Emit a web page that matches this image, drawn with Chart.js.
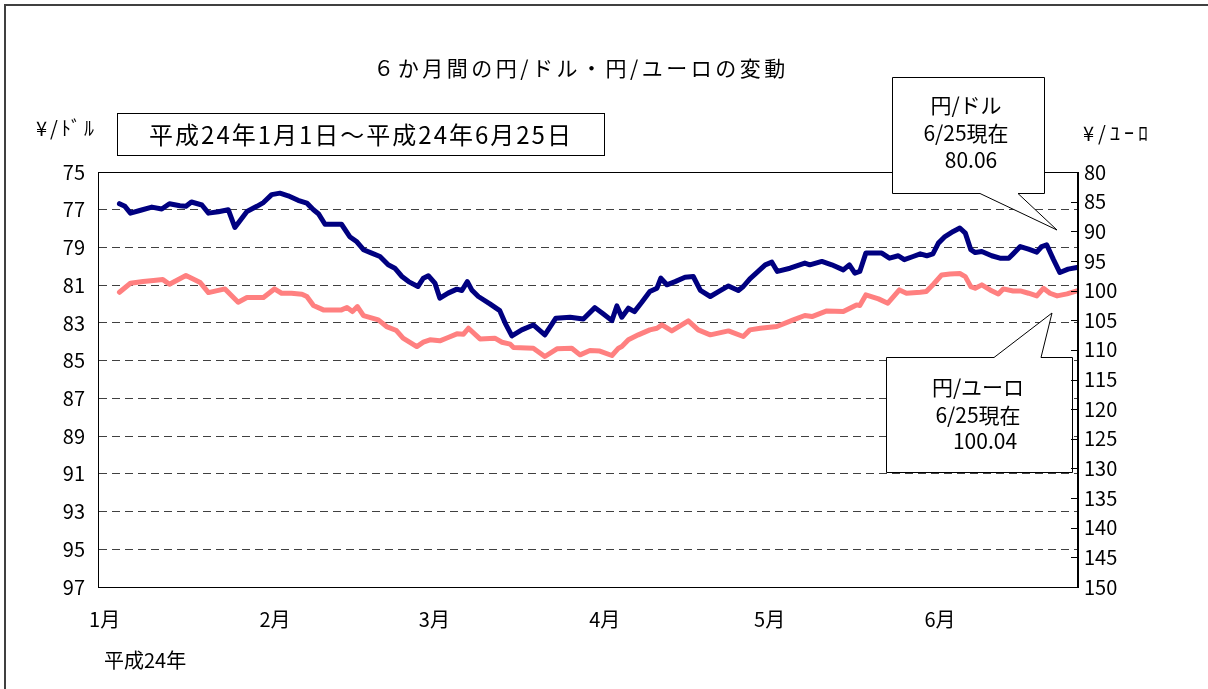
<!DOCTYPE html>
<html lang="ja">
<head>
<meta charset="utf-8">
<title>6か月間の円/ドル・円/ユーロの変動</title>
<script src="https://cdn.jsdelivr.net/npm/chart.js@4.4.1/dist/chart.umd.min.js"></script>
<style>
  html, body { margin: 0; padding: 0; background: #fff; }
  #wrap { width: 1208px; height: 689px; }
</style>
</head>
<body>
<div id="wrap"><canvas id="fxChart" width="1208" height="689"></canvas></div>
<script>
// ---------- Data (day index: 0 = 1月1日) ----------
const monthStarts = [0, 31, 60, 91, 121, 152];
const monthLabels = ["1月", "2月", "3月", "4月", "5月", "6月"];

// 円/ドル (left axis)
const usdDays = [
  2.7, 3.7, 4.7, 6.4, 8.6, 10.4, 11.8, 13.7, 14.8, 15.8, 17.7, 18.9, 20.7, 22.5, 23.7, 25.9, 27.7, 28.9,
  30.4, 31.9, 33.4, 35.2, 36.8, 38.0, 38.9, 40.1, 43.1, 44.6, 45.9, 47.1, 48.6, 50.1, 51.6, 52.8, 54.1,
  55.3, 57.0, 58.0, 58.9, 60.1, 61.0, 62.5, 64.1, 65.0, 66.0, 66.8, 68.0, 70.1, 71.9, 72.9, 74.1, 75.9,
  78.0, 80.1, 82.1, 84.7, 87.1, 89.2, 90.7, 92.3, 93.2, 94.1, 95.3, 96.4, 97.7, 99.2, 100.5, 101.2,
  102.3, 103.8, 105.6, 107.1, 108.4, 110.2, 111.7, 113.5, 115.3, 116.2, 117.4, 118.9, 120.2, 121.4,
  122.4, 124.7, 127.4, 128.3, 130.5, 132.3, 134.4, 135.5, 136.5, 137.4, 138.5, 141.4, 142.8, 144.4,
  145.5, 147.1, 148.4, 149.6, 150.7, 151.7, 152.9, 154.4, 155.6, 156.6, 157.6, 158.4, 159.6, 161.4,
  162.9, 164.5, 165.3, 166.6, 168.1, 169.6, 170.5, 171.4, 172.6, 173.8, 175.3, 176.9
];
const usdRates = [
  76.68, 76.82, 77.18, 77.04, 76.86, 76.96, 76.68, 76.79, 76.82, 76.59, 76.75, 77.18, 77.11, 77.00, 77.94, 77.09, 76.82, 76.62,
  76.20, 76.12, 76.26, 76.50, 76.65, 77.00, 77.21, 77.77, 77.77, 78.43, 78.70, 79.12, 79.30, 79.48, 79.92, 80.10, 80.54,
  80.81, 81.07, 80.63, 80.50, 80.89, 81.69, 81.42, 81.21, 81.28, 80.81, 81.25, 81.60, 81.99, 82.35, 83.02, 83.69, 83.37,
  83.11, 83.64, 82.75, 82.70, 82.79, 82.19, 82.52, 82.88, 82.10, 82.70, 82.22, 82.40, 81.92, 81.34, 81.16, 80.63,
  80.98, 80.81, 80.58, 80.54, 81.28, 81.60, 81.34, 81.04, 81.28, 81.07, 80.66, 80.27, 79.92, 79.78,
  80.27, 80.10, 79.83, 79.92, 79.74, 79.92, 80.19, 79.92, 80.36, 80.27, 79.30, 79.30, 79.57, 79.44,
  79.65, 79.48, 79.34, 79.44, 79.34, 78.77, 78.42, 78.15, 77.97, 78.24, 79.12, 79.27, 79.21, 79.44,
  79.57, 79.57, 79.34, 78.95, 79.09, 79.25, 78.95, 78.86, 79.62, 80.33, 80.15, 80.06
];

// 円/ユーロ (right axis)
const eurDays = [
  2.7, 4.7, 7.0, 8.9, 10.6, 11.8, 14.8, 17.4, 18.9, 21.9, 24.3, 25.9, 28.9, 30.9, 32.2, 34.0, 35.9,
  36.8, 38.0, 39.8, 43.1, 44.1, 45.1, 46.0, 47.1, 49.8, 51.3, 53.1, 54.3, 56.8, 58.0, 59.2, 61.0, 62.5,
  64.1, 65.3, 66.2, 68.3, 71.0, 72.3, 73.8, 74.4, 78.0, 80.1, 82.3, 85.0, 86.5, 88.3, 90.1, 92.3, 93.5,
  94.1, 95.3, 97.1, 99.2, 100.5, 101.4, 103.2, 106.2, 108.0, 110.2, 113.5, 116.2, 117.4, 119.3, 122.3,
  125.3, 127.4, 128.7, 131.4, 134.4, 136.8, 137.4, 138.5, 140.8, 142.5, 144.6, 145.9, 148.4, 149.5,
  150.8, 152.3, 153.8, 155.6, 156.6, 157.6, 158.4, 159.6, 161.1, 162.6, 163.5, 165.3, 166.6, 168.1,
  169.6, 170.8, 172.0, 173.3, 175.1, 176.9
];
const eurRates = [
  100.28, 98.76, 98.48, 98.31, 98.15, 98.93, 97.47, 98.65, 100.34, 99.72, 101.97, 101.18, 101.18, 99.72, 100.45, 100.45, 100.62,
  101.01, 102.53, 103.26, 103.26, 102.86, 103.54, 102.70, 104.21, 104.94, 106.07, 106.74, 108.03, 109.44, 108.71, 108.31, 108.48, 107.92,
  107.30, 107.36, 106.35, 108.15, 108.03, 108.71, 109.04, 109.61, 109.72, 111.12, 109.83, 109.72, 110.84, 110.11, 110.20, 110.95, 109.72,
  109.44, 108.31, 107.47, 106.63, 106.35, 105.79, 106.80, 105.11, 106.63, 107.47, 106.80, 107.75, 106.63, 106.35, 106.07,
  104.94, 104.21, 104.38, 103.43, 103.54, 102.42, 102.53, 100.73, 101.40, 102.13, 99.89, 100.45, 100.28, 100.17,
  98.93, 97.36, 97.19, 97.13, 97.64, 99.33, 99.61, 99.04, 99.89, 100.56, 99.72, 100.06, 100.06, 100.45,
  100.90, 99.61, 100.45, 100.90, 100.56, 100.04
];

const FONT = '"Noto Sans CJK JP", "Noto Sans", sans-serif';

// ---------- Helpers ----------
function drawText(ctx, text, x, y, size, align, spacing) {
  ctx.save();
  ctx.font = `${size}px ${FONT}`;
  ctx.fillStyle = "#000";
  ctx.textAlign = align || "center";
  ctx.textBaseline = "middle";
  if (spacing) ctx.letterSpacing = spacing + "px";
  ctx.fillText(text, x, y);
  ctx.restore();
}

function drawCallout(ctx, pts, lines) {
  ctx.save();
  ctx.beginPath();
  ctx.moveTo(pts[0][0], pts[0][1]);
  for (let i = 1; i < pts.length; i++) ctx.lineTo(pts[i][0], pts[i][1]);
  ctx.closePath();
  ctx.fillStyle = "#fff";
  ctx.fill();
  ctx.strokeStyle = "#000";
  ctx.lineWidth = 1;
  ctx.stroke();
  ctx.restore();
  lines.forEach(l => drawText(ctx, l[0], l[1], l[2], 21, "center"));
}

// ---------- Decorations plugin ----------
const decor = {
  id: "decor",
  beforeDraw(chart) {
    const ctx = chart.ctx;
    ctx.save();
    ctx.fillStyle = "#fff";
    ctx.fillRect(0, 0, chart.width, chart.height);
    ctx.restore();
  },
  afterDatasetsDraw(chart) {
    const ctx = chart.ctx;
    const a = chart.chartArea;
    ctx.save();
    ctx.strokeStyle = "#000";
    ctx.lineWidth = 1;
    ctx.strokeRect(Math.round(a.left) + 0.5, Math.round(a.top) + 0.5,
      Math.round(a.right - a.left) - 1, Math.round(a.bottom - a.top));
    ctx.restore();
  },
  afterDraw(chart) {
    const ctx = chart.ctx;
    const a = chart.chartArea;

    // outer frame
    ctx.save();
    ctx.strokeStyle = "#404040";
    ctx.lineWidth = 2;
    ctx.strokeRect(5, 5, 1220, 700);
    ctx.restore();

    // title and labels
    drawText(ctx, "６か月間の円/ドル・円/ユーロの変動", 581, 68, 21, "center", 3.5);
    drawText(ctx, "¥/ﾄﾞﾙ", 36, 128, 20, "left", 3);
    drawText(ctx, "¥/ﾕｰﾛ", 1083, 133, 20, "left", 4);
    drawText(ctx, "平成24年", 104, 660, 20, "left");

    // period box
    ctx.save();
    ctx.strokeStyle = "#000";
    ctx.lineWidth = 1;
    ctx.strokeRect(117.5, 113.5, 487, 42);
    ctx.restore();
    drawText(ctx, "平成24年1月1日～平成24年6月25日", 361, 135, 24, "center", 2);

    // callouts
    drawCallout(ctx,
      [[892.5, 77.5], [1044.5, 77.5], [1044.5, 193.5], [1018, 193.5], [1057, 230], [980, 193.5], [892.5, 193.5]],
      [["円/ドル", 966, 105], ["6/25現在", 966, 133], ["80.06", 971, 160]]);
    drawCallout(ctx,
      [[886.5, 357.5], [994, 357.5], [1052, 313], [1041, 357.5], [1072.5, 357.5], [1072.5, 472.5], [886.5, 472.5]],
      [["円/ユーロ", 978, 387], ["6/25現在", 978, 415], ["100.04", 985, 441]]);

    // inward tick marks on right axis
    const y2 = chart.scales.y2;
    ctx.save();
    ctx.strokeStyle = "#000";
    ctx.lineWidth = 1;
    ctx.beginPath();
    y2.ticks.forEach(t => {
      const py = Math.round(y2.getPixelForValue(t.value)) + 0.5;
      ctx.moveTo(a.right - 7, py);
      ctx.lineTo(a.right, py);
    });
    ctx.stroke();
    ctx.restore();
  }
};

// ---------- Chart ----------
const usdPoints = usdDays.map((d, i) => ({ x: d, y: usdRates[i] }));
const eurPoints = eurDays.map((d, i) => ({ x: d, y: eurRates[i] }));

const ctx = document.getElementById("fxChart").getContext("2d");
const fxChart = new Chart(ctx, {
  type: "line",
  data: {
    datasets: [
      {
        label: "円/ユーロ",
        data: eurPoints,
        yAxisID: "y2",
        borderColor: "#FF8080",
        borderWidth: 5,
        pointRadius: 0,
        tension: 0,
        borderJoinStyle: "round",
        borderCapStyle: "round"
      },
      {
        label: "円/ドル",
        data: usdPoints,
        yAxisID: "y",
        borderColor: "#000080",
        borderWidth: 5,
        pointRadius: 0,
        tension: 0,
        borderJoinStyle: "round",
        borderCapStyle: "round"
      }
    ]
  },
  options: {
    responsive: false,
    animation: false,
    devicePixelRatio: 1,
    layout: { padding: { top: 172, left: 0, right: 0, bottom: 0 } },
    plugins: {
      legend: { display: false },
      tooltip: { enabled: false },
      title: { display: false }
    },
    scales: {
      x: {
        type: "linear",
        min: -1.2,
        max: 177.1,
        grid: { display: false, drawTicks: false },
        border: { display: false },
        ticks: {
          font: { family: FONT, size: 20 },
          color: "#000",
          padding: 20,
          autoSkip: false,
          maxRotation: 0,
          callback: (value, index) => monthLabels[index]
        },
        afterBuildTicks: (scale) => { scale.ticks = monthStarts.map(v => ({ value: v })); },
        afterFit: (scale) => { scale.height = 102; }
      },
      y: {
        position: "left",
        min: 75,
        max: 97,
        reverse: true,
        ticks: {
          stepSize: 2,
          font: { family: FONT, size: 20 },
          color: "#000",
          padding: 13
        },
        grid: { color: "#404040", lineWidth: 1, drawTicks: false },
        border: { display: true, color: "#000", width: 1, dash: [8, 5] },
        afterFit: (scale) => { scale.width = 98; }
      },
      y2: {
        position: "right",
        min: 80,
        max: 150,
        reverse: true,
        ticks: {
          stepSize: 5,
          font: { family: FONT, size: 20 },
          color: "#000",
          padding: 6
        },
        grid: { drawOnChartArea: false, drawTicks: false },
        border: { display: true, color: "#000", width: 1 },
        afterFit: (scale) => { scale.width = 130; }
      }
    }
  },
  plugins: [decor]
});
</script>
</body>
</html>
